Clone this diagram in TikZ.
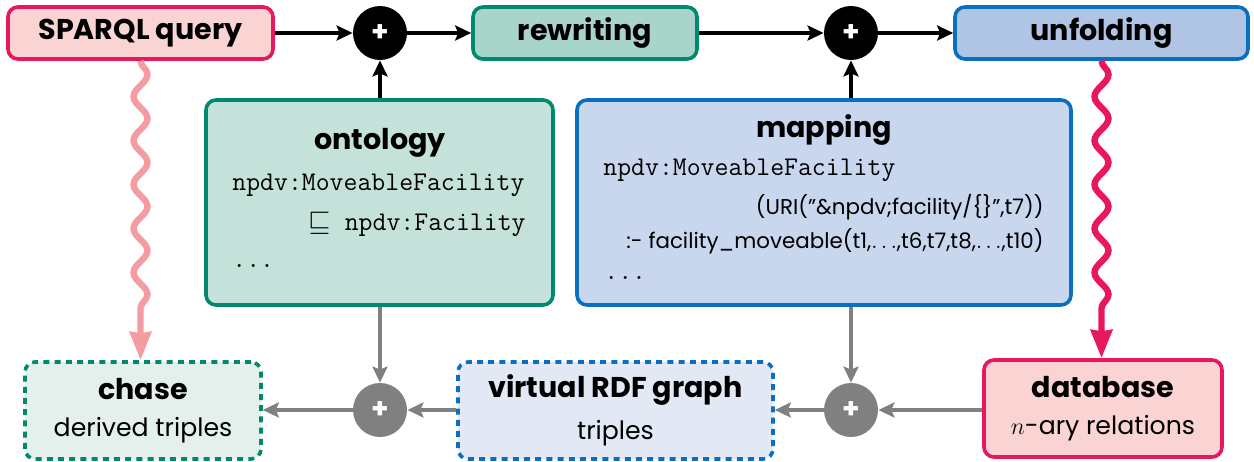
\documentclass[tikz,border=0pt]{standalone}
\usepackage{amssymb}
\usepackage{fontspec}
\setmainfont{Poppins}
\usetikzlibrary{arrows.meta,decorations.pathmorphing,calc}
\definecolor{pinkstroke}{HTML}{E8185C}
\definecolor{pinkfill}{HTML}{FAD4D3}
\definecolor{pinklight}{HTML}{F59CA3}
\definecolor{tealstroke}{HTML}{00896F}
\definecolor{rewfill}{HTML}{A9D4C9}
\definecolor{ontfill}{HTML}{C4E1DA}
\definecolor{chasefill}{HTML}{E3F0EC}
\definecolor{bluestroke}{HTML}{0B6FBF}
\definecolor{unffill}{HTML}{B0C5E5}
\definecolor{mapfill}{HTML}{C8D6EE}
\definecolor{virtfill}{HTML}{E2E9F5}
\definecolor{greyarrow}{HTML}{808080}
\newcommand{\titlesz}{\fontsize{14.3}{16}\selectfont\bfseries}
\newcommand{\bodysz}{\fontsize{12.6}{15}\selectfont}
\begin{document}
\begin{tikzpicture}[x=0.5pt,y=-0.5pt,
  box/.style={draw, rounded corners=5pt, line width=1.8pt, inner sep=0pt},
  dashbox/.style={box, dash pattern=on 3pt off 2.6pt},
  titlefont/.style={font=\titlesz},
  monofont/.style={font=\fontsize{13.5}{16}\selectfont\ttfamily},
  smallfont/.style={font=\fontsize{10.7}{12}\selectfont},
  plusnode/.style={circle, minimum size=27pt, inner sep=0pt, text=white,
    font=\fontsize{14}{14}\selectfont\bfseries},
  blackarrow/.style={line width=1.6pt, -{Stealth[length=8pt,width=7.5pt,inset=1.5pt]}},
  greyarr/.style={blackarrow, greyarrow},
  wave/.style={line width=3.2pt, #1, decorate,
    decoration={snake, amplitude=3.5pt, segment length=22pt, post length=22pt},
    -{Stealth[length=14pt,width=10.5pt,inset=0.5pt]}},
]
\useasboundingbox (0,0) rectangle (1254,461);

% top row
\node[box, titlefont, draw=pinkstroke, fill=pinkfill, minimum width=132.5pt, minimum height=26pt] (sparql) at (140.5,33) {SPARQL query};
\node[plusnode, fill=black] (plusA) at (380,33) {+};
\node[box, titlefont, draw=tealstroke, fill=rewfill, minimum width=112pt, minimum height=26pt] (rewriting) at (585,33) {rewriting};
\node[plusnode, fill=black] (plusB) at (851,33) {+};
\node[box, titlefont, draw=bluestroke, fill=unffill, minimum width=146.5pt, minimum height=26pt] (unfolding) at (1101.5,33) {unfolding};

% middle boxes
\node[box, draw=tealstroke, fill=ontfill, minimum width=173.5pt, minimum height=102.5pt] (ontology) at (379.5,202.5) {};
\node[titlefont] (ontT) at (380,143) {ontology};
\node[monofont, anchor=west, inner sep=0pt] (ontA) at (232,185) {npdv:MoveableFacility};
\node[monofont, anchor=east, inner sep=0pt] (ontB) at (526,224) {$\sqsubseteq$ npdv:Facility};
\node[monofont, anchor=west, inner sep=0pt] (ontC) at (232,266) {...};

\node[box, draw=bluestroke, fill=mapfill, minimum width=247pt, minimum height=102.5pt] (mapping) at (824,202.5) {};
\node[titlefont] (mapT) at (824,130) {mapping};
\node[monofont, anchor=west, inner sep=0pt] (mapA) at (603,170) {npdv:MoveableFacility};
\node[smallfont, anchor=east, inner sep=0pt] (mapB) at (1044,207) {(URI(”\&npdv;facility/\{\}”,t7))};
\node[smallfont, anchor=east, inner sep=0pt] (mapC) at (1044,241) {:- facility\_moveable(t1,$\ldots$,t6,t7,t8,$\ldots$,t10)};
\node[monofont, anchor=west, inner sep=0pt] (mapD) at (604,278) {...};

% bottom row
\node[dashbox, draw=tealstroke, fill=chasefill, minimum width=118pt, minimum height=48.5pt, align=center] (chase) at (143,410.5)
  {{\titlesz chase}\\[6.5pt]{\bodysz derived triples}};
\node[plusnode, fill=greyarrow] (plusC) at (380,410) {+};
\node[dashbox, draw=bluestroke, fill=virtfill, minimum width=157.5pt, minimum height=48.5pt, align=center] (virtual) at (615.5,410.5)
  {{\titlesz virtual RDF graph}\\[6.5pt]{\bodysz triples}};
\node[plusnode, fill=greyarrow] (plusD) at (851,410) {+};
\node[box, draw=pinkstroke, fill=pinkfill, minimum width=119pt, minimum height=48.5pt, align=center] (database) at (1103,408.5)
  {{\titlesz database}\\[6.5pt]{\bodysz $n$-ary relations}};

% connectors top
\draw[blackarrow] (sparql.east) -- (plusA.west);
\draw[blackarrow] (plusA.east) -- (rewriting.west);
\draw[blackarrow] (rewriting.east) -- (plusB.west);
\draw[blackarrow] (plusB.east) -- (unfolding.west);
\draw[blackarrow] (plusA |- ontology.north) -- (plusA.south);
\draw[blackarrow] (plusB |- mapping.north) -- (plusB.south);

% grey connectors
\draw[greyarr] (plusC |- ontology.south) -- (plusC.north);
\draw[greyarr] (plusD |- mapping.south) -- (plusD.north);
\draw[greyarr] (database.west |- plusD) -- (plusD.east);
\draw[greyarr] (plusD.west) -- (virtual.east |- plusD);
\draw[greyarr] (virtual.west |- plusC) -- (plusC.east);
\draw[greyarr] (plusC.west) -- (chase.east |- plusC);

% wavy connectors
\draw[wave=pinklight] (sparql.south) -- (sparql.south |- chase.north);
\draw[wave=pinkstroke] (unfolding.south) -- (unfolding.south |- database.north);
\end{tikzpicture}
\end{document}
